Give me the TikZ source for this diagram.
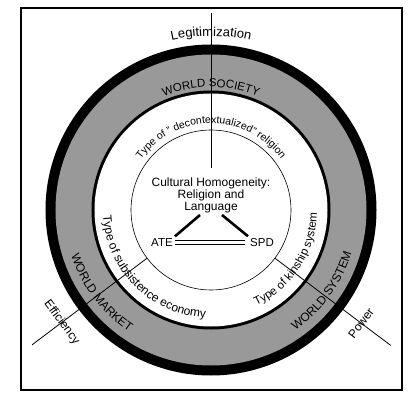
\documentclass[tikz,border=0pt]{standalone}
\usepackage{fontspec}
\setmainfont{Liberation Sans}
\usetikzlibrary{decorations.text}
\definecolor{ringgray}{RGB}{153,153,153}
\begin{document}
\begin{tikzpicture}[x=1pt,y=1pt,
  thinline/.style={line width=0.8pt},
  boldline/.style={line width=2.6pt},
  dualline/.style={line width=1.1pt, double, double distance=3pt},
  label/.style={font=\fontsize{11.5}{12.5}\selectfont, inner sep=2pt}
]
\useasboundingbox (-211,-210) rectangle (209,210);
\fill[white] (-211,-210) rectangle (209,210);
% frame
\node[draw, line width=1.2pt, minimum width=381, minimum height=382, inner sep=0pt] (frame) at (0.5,11) {};
% rings
\fill[black] (0,0) circle[radius=165.5];
\fill[ringgray] (0,0) circle[radius=155.5];
\fill[black] (0,0) circle[radius=119.5];
\fill[white] (0,0) circle[radius=116.5];
\draw[line width=0.6pt] (0,0) circle[radius=80];
% coordinates
\coordinate (topend) at (0,197);
\coordinate (llin) at (217:80);
\coordinate (llout) at (217:224);
\coordinate (lrin) at (-37:80);
\coordinate (lrout) at (-37:225);
\coordinate (cl) at (-11,-5);
\coordinate (cr) at (11,-5);
% center texts
\node[label, font=\fontsize{12}{12.2}\selectfont, align=center] (ctext) at (0,14.5) {Cultural Homogeneity:\\Religion and\\Language};
\node[label] (ate) at (-49,-32.5) {ATE};
\node[label] (spd) at (51,-32.5) {SPD};
% outer labels
\node[label, font=\fontsize{12}{12}\selectfont, rotate=-53] (eff) at (217:187) {Efficiency};
\node[label, font=\fontsize{12}{12}\selectfont, rotate=53] (pow) at (-37:188) {Power};
% connectors
\draw[thinline, shorten >=8pt] (topend) -- (ctext.north);
\draw[thinline] (llin) -- (llout);
\draw[thinline] (lrin) -- (lrout);
\draw[boldline] (cl) -- (ate.north east);
\draw[boldline] (cr) -- (spd.north west);
\draw[dualline, shorten >=3pt] (ate.east) -- (spd.west);
% arc texts (clockwise, tops outward)
\path[decorate, decoration={text along path, text align=center,
  text={|\fontsize{13}{14}\selectfont|Legitimization}}]
  (135:174) arc[start angle=135, end angle=45, radius=174];
\path[decorate, decoration={text along path, text align=center,
  text={|\fontsize{11.5}{12}\selectfont|WORLD SOCIETY}}]
  (150:123) arc[start angle=150, end angle=30, radius=123];
\path[decorate, decoration={text along path, text align=center,
  text={|\fontsize{10.5}{12}\selectfont|Type of " decontextualized" religion}}]
  (170:86.5) arc[start angle=170, end angle=10, radius=86.5];
% arc texts (counterclockwise, tops inward)
\path[decorate, decoration={text along path, text align=center,
  text={|\fontsize{12}{12}\selectfont|WORLD MARKET}}]
  (167:147) arc[start angle=167, end angle=267, radius=147];
\path[decorate, decoration={text along path, text align=center,
  text={|\fontsize{12}{12}\selectfont|WORLD SYSTEM}}]
  (-86:147) arc[start angle=-86, end angle=14, radius=147];
\path[decorate, decoration={text along path, text align=center,
  text={|\fontsize{12}{12}\selectfont|Type of subsistence economy}}]
  (155:108) arc[start angle=155, end angle=295, radius=108];
\path[decorate, decoration={text along path, text align=center,
  text={|\fontsize{11.5}{12}\selectfont|Type of kinship system}}]
  (-100:106) arc[start angle=-100, end angle=34, radius=106];
\end{tikzpicture}
\end{document}
